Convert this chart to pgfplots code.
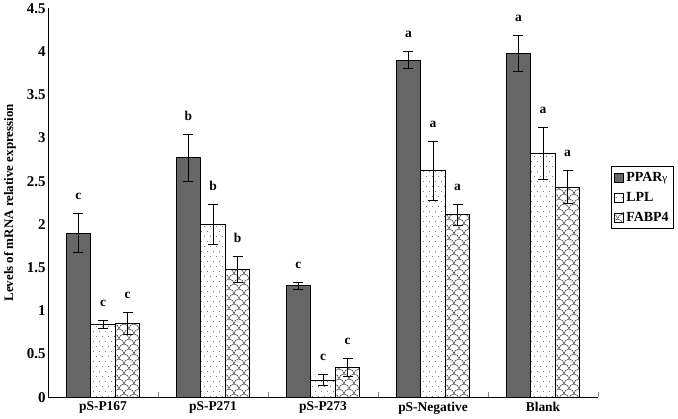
\documentclass[border=0pt]{standalone}
\usepackage{pgfplots}
\pgfplotsset{compat=1.18}
\usepackage{pgfplotstable}
\usetikzlibrary{patterns.meta}
\usepackage{fontspec}
\setmainfont{Liberation Serif}

\definecolor{pparfill}{HTML}{666666}

\tikzdeclarepattern{
  name=sdots, type=uncolored,
  bottom left={(0pt,0pt)}, top right={(6pt,10pt)}, tile size={(6pt,10pt)},
  code={\fill (1.5pt,2.5pt) circle (0.5pt); \fill (4.5pt,7.5pt) circle (0.5pt);}
}
\tikzdeclarepattern{
  name=scales, type=uncolored,
  bottom left={(0pt,0pt)}, top right={(10pt,10pt)}, tile size={(10pt,10pt)},
  code={
    \draw[line width=0.5pt] (0pt,0pt) arc[start angle=180,end angle=0,radius=5pt];
    \draw[line width=0.5pt] (-5pt,5pt) arc[start angle=180,end angle=0,radius=5pt];
    \draw[line width=0.5pt] (5pt,5pt) arc[start angle=180,end angle=0,radius=5pt];
    \draw[line width=0.5pt] (0pt,10pt) arc[start angle=180,end angle=0,radius=5pt];
  }
}

\pgfplotstableread{
cat P    Perr  Plab L     Lerr  Llab F     Ferr  Flab
0   1.90 0.23  c    0.84  0.045 c    0.857 0.125 c
1   2.77 0.27  b    2.00  0.235 b    1.48  0.15  b
2   1.29 0.04  c    0.20  0.06  c    0.35  0.105 c
3   3.90 0.10  a    2.62  0.34  a    2.11  0.12  a
4   3.98 0.21  a    2.82  0.30  a    2.43  0.19  a
}\data

\begin{document}
\begin{tikzpicture}
\begin{axis}[
  scale only axis, width=550bp, height=389bp,
  ymin=0, ymax=4.5, xmin=-0.5, xmax=4.5,
  axis x line*=bottom, axis y line*=left,
  axis line style={line width=1pt},
  ybar, bar width=0.223,
  ytick={0,0.5,...,4.5},
  yticklabels={0,0.5,1,1.5,2,2.5,3,3.5,4,4.5},
  xtick={0,1,2,3,4},
  xticklabels={pS-P167,pS-P271,pS-P273,pS-Negative,Blank},
  major x tick style={draw=none},
  minor xtick={0.5,1.5,2.5,3.5,4.5},
  minor x tick style={line width=1pt},
  minor tick length=5bp,
  x tick style={line width=1pt},
  y tick style={draw=none},
  tick align=inside,
  xticklabel style={font=\bfseries\fontsize{13.5}{15}\selectfont, yshift=-1bp},
  yticklabel style={font=\bfseries\fontsize{15}{17}\selectfont, xshift=1bp},
  ylabel={Levels of mRNA relative expression},
  every axis y label/.style={at={(axis description cs:0,0.5)}, xshift=-38bp,
    rotate=90, anchor=center, font=\bfseries\fontsize{13}{15}\selectfont},
  legend style={at={(1.0236,0.594)}, anchor=north west, draw=black, line width=1pt,
    font=\bfseries\fontsize{14}{16}\selectfont, inner xsep=3bp, inner ysep=4bp,
    row sep=5bp},
  legend cell align=left,
  legend image code/.code={\draw[#1, line width=0.8pt] (0bp,-4.5bp) rectangle (9bp,4.5bp);},
  clip=false,
]
\addplot[fill=pparfill, draw=black, line width=1pt, bar shift=-0.223,
  error bars/.cd, y dir=both, y explicit,
  error bar style={line width=1pt, black},
  error mark options={rotate=90, mark size=5bp, line width=1pt, black}]
  table[x=cat, y=P, y error=Perr] {\data};
\addplot[pattern=sdots, pattern color=black!70, draw=black, line width=1pt, bar shift=0,
  error bars/.cd, y dir=both, y explicit,
  error bar style={line width=1pt, black},
  error mark options={rotate=90, mark size=5bp, line width=1pt, black}]
  table[x=cat, y=L, y error=Lerr] {\data};
\addplot[pattern=scales, pattern color=black!75, draw=black, line width=1pt, bar shift=0.223,
  error bars/.cd, y dir=both, y explicit,
  error bar style={line width=1pt, black},
  error mark options={rotate=90, mark size=5bp, line width=1pt, black}]
  table[x=cat, y=F, y error=Ferr] {\data};
\legend{PPAR{\mdseries\fontsize{11}{13}\selectfont γ},LPL,FABP4}

\addplot[draw=none, fill=none, bar shift=-0.223, forget plot,
  nodes near coords, point meta=explicit symbolic,
  every node near coord/.append style={anchor=base, yshift=14bp, font=\bfseries\fontsize{13.5}{15}\selectfont}]
  table[x=cat, y expr=\thisrow{P}+\thisrow{Perr}, meta=Plab] {\data};
\addplot[draw=none, fill=none, bar shift=0, forget plot,
  nodes near coords, point meta=explicit symbolic,
  every node near coord/.append style={anchor=base, yshift=14bp, font=\bfseries\fontsize{13.5}{15}\selectfont}]
  table[x=cat, y expr=\thisrow{L}+\thisrow{Lerr}, meta=Llab] {\data};
\addplot[draw=none, fill=none, bar shift=0.223, forget plot,
  nodes near coords, point meta=explicit symbolic,
  every node near coord/.append style={anchor=base, yshift=14bp, font=\bfseries\fontsize{13.5}{15}\selectfont}]
  table[x=cat, y expr=\thisrow{F}+\thisrow{Ferr}, meta=Flab] {\data};
\end{axis}
\useasboundingbox ([xshift=-48bp,yshift=-21bp]current axis.south west) rectangle ([xshift=80bp,yshift=5bp]current axis.north east);
\end{tikzpicture}
\end{document}
